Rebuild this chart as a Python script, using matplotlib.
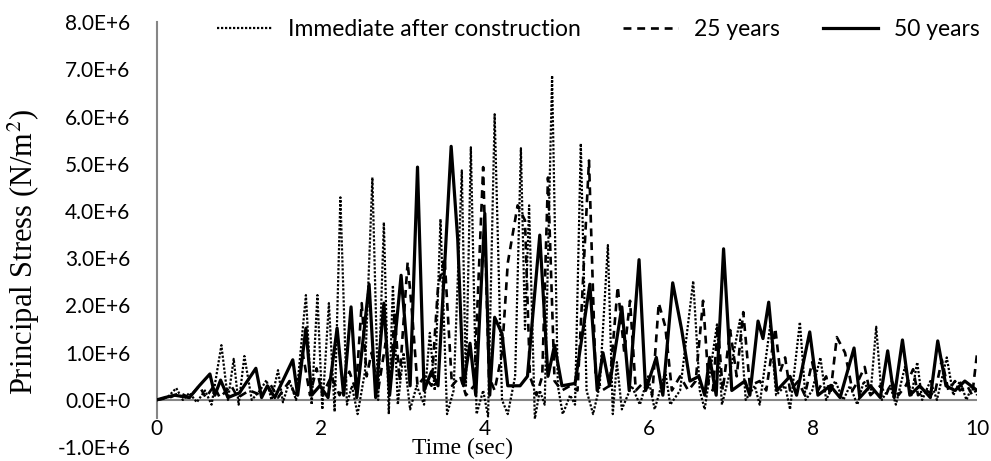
import matplotlib
matplotlib.use("Agg")
import matplotlib.pyplot as plt

# time (sec) and principal stress (x 1e6 N/m^2)
t_immediate = [0.00, 0.13, 0.24, 0.32, 0.40, 0.49, 0.59, 0.67, 0.79, 0.87, 0.94, 1.00, 1.07, 1.16, 1.26,
               1.34, 1.40, 1.48, 1.54, 1.62, 1.70, 1.82, 1.89, 1.96, 2.02, 2.10, 2.17, 2.24, 2.32, 2.38,
               2.45, 2.54, 2.63, 2.70, 2.77, 2.83, 2.88, 2.94, 3.01, 3.09, 3.17, 3.26, 3.33, 3.39, 3.46,
               3.54, 3.62, 3.72, 3.77, 3.83, 3.90, 3.98, 4.04, 4.12, 4.21, 4.28, 4.37, 4.44, 4.49, 4.54,
               4.61, 4.67, 4.73, 4.82, 4.89, 4.95, 5.04, 5.10, 5.17, 5.24, 5.32, 5.40, 5.50, 5.56, 5.61,
               5.67, 5.79, 5.89, 5.99, 6.07, 6.20, 6.26, 6.38, 6.54, 6.62, 6.68, 6.83, 6.89, 6.99, 7.11,
               7.18, 7.29, 7.35, 7.48, 7.55, 7.66, 7.72, 7.84, 7.91, 7.99, 8.09, 8.16, 8.27, 8.37, 8.45,
               8.54, 8.62, 8.70, 8.77, 8.84, 8.94, 9.01, 9.12, 9.20, 9.27, 9.33, 9.43, 9.51, 9.63, 9.71,
               9.79, 9.87, 9.94, 10.00]
s_immediate = [0.00, 0.05, 0.25, 0.00, 0.15, -0.05, 0.20, -0.10, 1.16, 0.00, 0.87, -0.10, 0.93, 0.00, 0.20,
               0.42, 0.00, 0.63, -0.05, 0.40, 0.00, 2.22, -0.10, 2.22, -0.20, 2.05, -0.25, 4.29, -0.10, 0.30,
               -0.30, 0.60, 4.71, 0.00, 3.76, -0.30, 2.43, -0.10, 1.00, -0.20, 0.30, -0.10, 1.42, 0.20, 3.83,
               -0.30, 0.20, 4.86, 0.30, 5.35, -0.30, 0.20, -0.35, 6.05, 0.00, -0.30, 0.50, 5.33, 1.50, 4.12,
               -0.40, 0.20, -0.10, 6.87, 0.30, -0.30, 0.10, -0.10, 5.43, 0.20, -0.30, 0.30, 3.28, -0.30, 0.80,
               -0.20, 0.30, -0.10, 0.50, -0.20, 0.60, -0.10, 0.20, 2.52, 0.20, -0.20, 1.60, -0.10, 0.60, 1.70,
               0.00, 0.30, -0.10, 1.60, 0.10, 0.30, -0.20, 1.65, 0.00, 0.20, 0.90, 0.00, 0.40, 0.00, 0.30,
               -0.10, 0.40, 0.10, 1.55, 0.00, 0.30, -0.10, 0.70, 0.10, 0.80, 0.00, 0.40, 0.00, 0.90, 0.10,
               0.40, 0.00, 0.30, 0.10]

t_25 = [0.00, 0.16, 0.28, 0.40, 0.52, 0.60, 0.70, 0.77, 0.91, 0.99, 1.13, 1.28, 1.38, 1.48, 1.62, 1.70,
        1.78, 1.87, 1.95, 2.02, 2.13, 2.23, 2.35, 2.43, 2.50, 2.56, 2.62, 2.70, 2.79, 2.85, 2.90, 2.96,
        3.06, 3.12, 3.18, 3.27, 3.35, 3.43, 3.51, 3.60, 3.70, 3.77, 3.87, 3.98, 4.05, 4.12, 4.21, 4.28,
        4.40, 4.49, 4.55, 4.63, 4.70, 4.77, 4.85, 4.94, 5.04, 5.13, 5.27, 5.35, 5.43, 5.52, 5.62, 5.70,
        5.77, 5.84, 5.95, 6.04, 6.12, 6.20, 6.28, 6.38, 6.48, 6.57, 6.66, 6.73, 6.78, 6.84, 6.90, 6.99,
        7.07, 7.15, 7.23, 7.35, 7.43, 7.54, 7.60, 7.66, 7.72, 7.82, 7.90, 7.99, 8.06, 8.16, 8.21, 8.29,
        8.39, 8.48, 8.55, 8.63, 8.70, 8.82, 8.89, 8.96, 9.04, 9.13, 9.22, 9.28, 9.38, 9.48, 9.57, 9.65,
        9.73, 9.79, 9.88, 9.94, 10.00]
s_25 = [0.00, 0.05, 0.15, 0.05, 0.30, 0.05, 0.30, 0.05, 0.30, 0.05, 0.20, 0.10, 0.35, 0.05, 0.40, 0.05,
        1.00, 0.10, 0.67, 0.10, 0.50, 0.10, 0.60, 0.20, 2.05, 0.50, 1.00, 0.20, 1.20, 0.30, 1.86, 0.40,
        2.92, 1.70, 0.30, 0.50, 0.30, 2.40, 3.00, 0.30, 0.50, 0.10, 0.30, 4.93, 0.50, 0.20, 1.00, 2.90,
        4.12, 3.80, 0.50, 0.10, 0.50, 4.71, 0.40, 0.20, 0.30, 0.20, 5.07, 0.50, 0.20, 0.30, 2.40, 1.00,
        2.10, 0.20, 0.40, 0.10, 2.05, 1.55, 0.20, 0.50, 0.20, 0.40, 2.10, 0.30, 0.20, 1.58, 0.20, 1.48,
        0.50, 1.86, 0.30, 0.40, 0.20, 1.52, 0.60, 0.90, 0.20, 0.40, 0.10, 0.80, 0.20, 0.50, 0.10, 1.33,
        1.00, 0.20, 0.40, 0.70, 0.10, 0.30, 0.10, 0.40, 0.10, 0.30, 0.65, 0.10, 0.20, 0.10, 0.85, 0.20,
        0.40, 0.20, 0.30, 0.10, 1.00]

t_50 = [0.00, 0.10, 0.22, 0.40, 0.52, 0.65, 0.71, 0.78, 0.87, 1.01, 1.21, 1.28, 1.35, 1.44, 1.66, 1.72,
        1.82, 1.89, 1.99, 2.09, 2.20, 2.28, 2.37, 2.44, 2.59, 2.67, 2.77, 2.84, 2.98, 3.09, 3.18, 3.26,
        3.35, 3.43, 3.59, 3.67, 3.74, 3.82, 3.89, 4.00, 4.06, 4.12, 4.21, 4.28, 4.43, 4.52, 4.67, 4.77,
        4.85, 4.94, 5.10, 5.28, 5.37, 5.44, 5.52, 5.67, 5.76, 5.88, 5.96, 6.09, 6.17, 6.29, 6.40, 6.50,
        6.61, 6.68, 6.74, 6.82, 6.91, 7.01, 7.17, 7.23, 7.33, 7.39, 7.46, 7.56, 7.72, 7.80, 7.96, 8.06,
        8.21, 8.33, 8.50, 8.57, 8.70, 8.82, 8.91, 8.99, 9.09, 9.18, 9.30, 9.43, 9.52, 9.62, 9.73, 9.85,
        10.00]
s_50 = [0.00, 0.05, 0.10, 0.05, 0.30, 0.55, 0.10, 0.42, 0.05, 0.15, 0.67, 0.05, 0.30, 0.05, 0.85, 0.10,
        1.52, 0.10, 0.30, 0.05, 1.52, 0.10, 1.97, 0.05, 2.45, 0.05, 2.05, 0.10, 2.64, 0.30, 4.93, 0.20,
        0.60, 0.30, 5.37, 3.40, 0.30, 1.20, 0.10, 3.95, 0.10, 1.75, 1.40, 0.30, 0.30, 0.50, 3.49, 0.50,
        1.16, 0.30, 0.35, 2.45, 0.20, 1.00, 0.30, 1.97, 0.20, 2.97, 0.20, 0.90, 0.10, 2.48, 1.48, 0.40,
        0.50, 0.10, 0.90, 0.10, 3.20, 0.20, 0.40, 0.10, 1.67, 1.30, 2.07, 0.20, 0.50, 0.10, 1.44, 0.10,
        0.30, 0.05, 1.10, 0.05, 0.30, 0.05, 1.04, 0.05, 1.27, 0.10, 0.30, 0.05, 1.25, 0.30, 0.20, 0.40,
        0.20]

y_ticks = [-1, 0, 1, 2, 3, 4, 5, 6, 7, 8]
y_tick_labels = ["-1.0E+6", "0.0E+0", "1.0E+6", "2.0E+6", "3.0E+6", "4.0E+6",
                 "5.0E+6", "6.0E+6", "7.0E+6", "8.0E+6"]
x_ticks = [0, 2, 4, 6, 8, 10]

plt.rcParams["font.family"] = ["Lato", "DejaVu Sans"]
plt.rcParams["mathtext.fontset"] = "stix"

fig = plt.figure(figsize=(9.91, 4.61), dpi=100)
ax = fig.add_axes([0.158, 0.030, 0.828, 0.922])

axis_grey = "#868686"

ax.plot(t_immediate, s_immediate, color="black", lw=1.6, linestyle=(0, (1, 0.8)),
        label="Immediate after construction", zorder=3)
ax.plot(t_25, s_25, color="black", lw=1.9, linestyle=(0, (3, 2.2)), label="25 years", zorder=4)
ax.plot(t_50, s_50, color="black", lw=2.3, solid_joinstyle="round", label="50 years", zorder=5)

ax.axhline(0, color=axis_grey, lw=1.5, zorder=2)

ax.set_xlim(0, 10)
ax.set_ylim(-1, 8)
ax.set_xticks(x_ticks)
ax.set_yticks(y_ticks)
ax.set_yticklabels(y_tick_labels)

for side in ["top", "right", "bottom"]:
    ax.spines[side].set_visible(False)
ax.spines["left"].set_color(axis_grey)
ax.spines["left"].set_linewidth(1.5)
ax.spines["left"].set_bounds(-0.38, 8)

ax.tick_params(axis="y", length=0, pad=19, labelsize=15)
ax.tick_params(axis="x", length=0, pad=-20, labelsize=15)

ax.set_ylabel("Principal Stress (N/m$^2$)", family="Liberation Serif", fontsize=22)
ax.yaxis.set_label_coords(-0.140, 0.459)
ax.text(0.373, -0.004, "Time (sec)", transform=ax.transAxes, ha="center", va="center",
        family="Liberation Serif", fontsize=17, zorder=1)

fig.legend(loc="center left", bbox_to_anchor=(217 / 991, 1 - 30 / 461), ncol=3, frameon=False,
           fontsize=16.5, handlelength=2.4, handletextpad=0.7, columnspacing=1.85, borderpad=0,
           borderaxespad=0)

fig.savefig("out.png", dpi=100)
